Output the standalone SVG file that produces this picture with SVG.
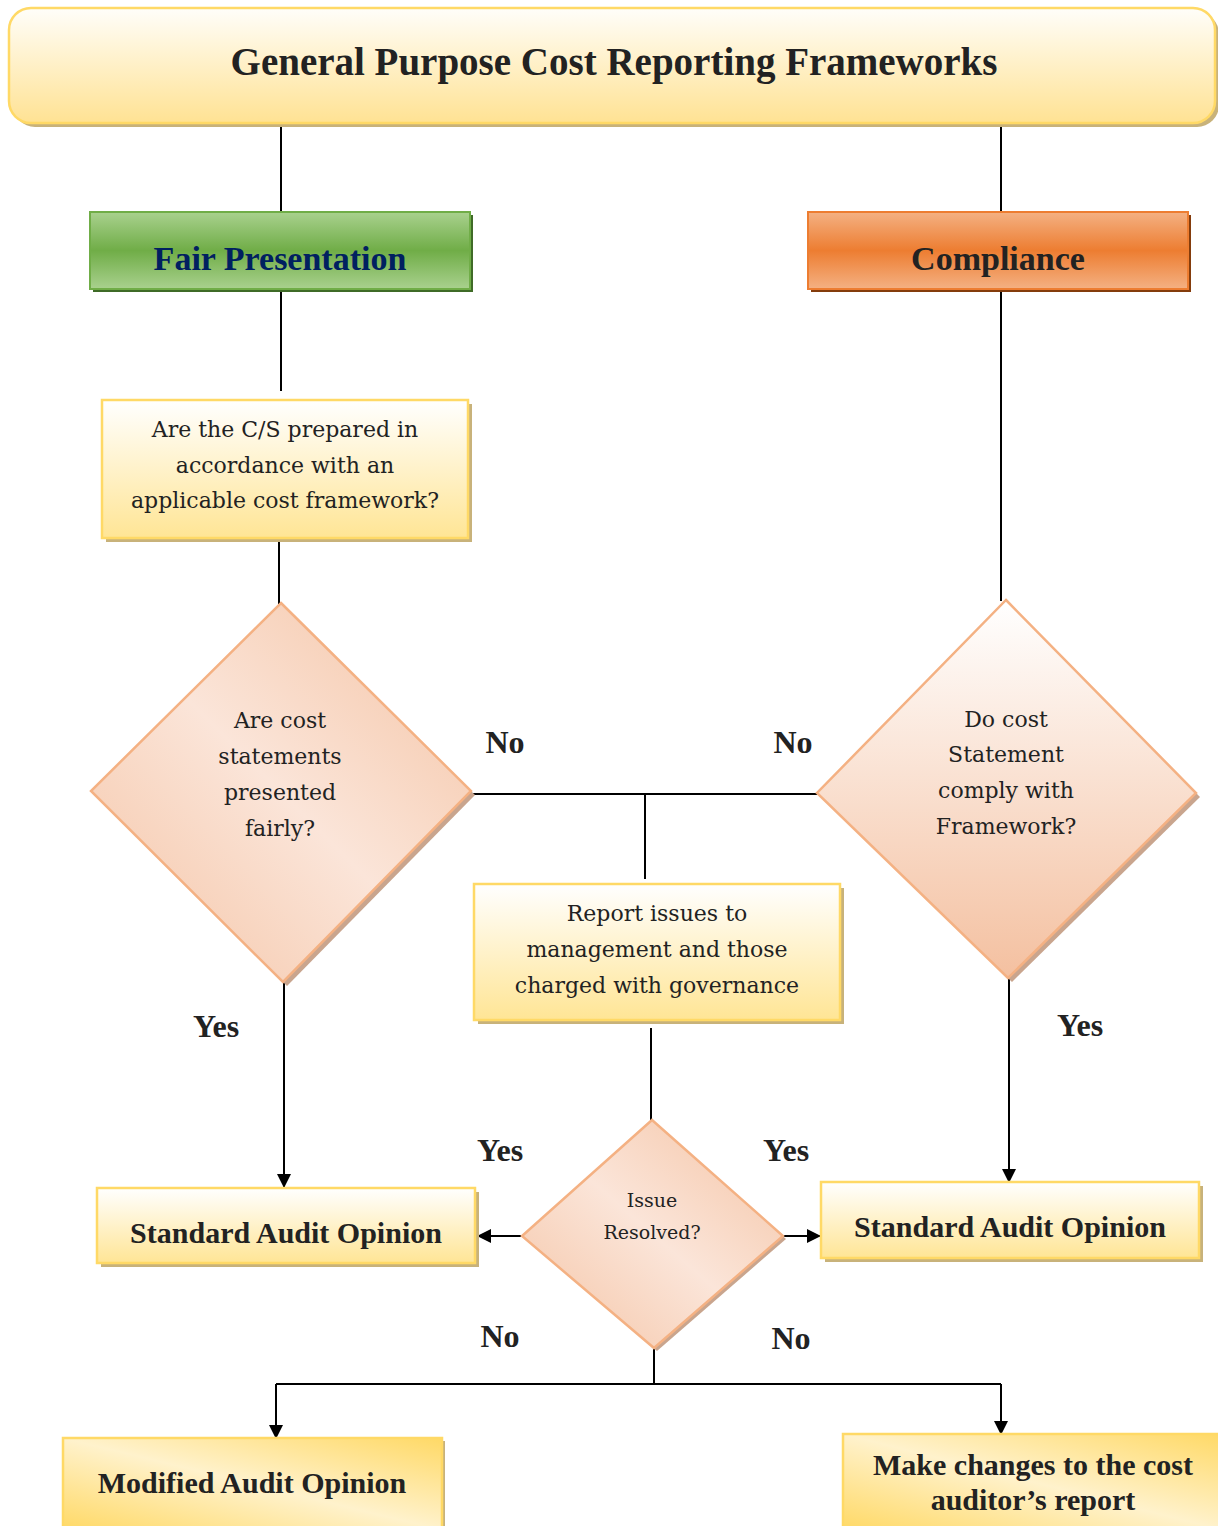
<svg xmlns="http://www.w3.org/2000/svg" width="1218" height="1526" viewBox="0 0 1218 1526">
  <defs>
    <linearGradient id="gTitle" x1="0" y1="0" x2="0" y2="1">
      <stop offset="0" stop-color="#FFFEFA"/>
      <stop offset="1" stop-color="#FFE293"/>
    </linearGradient>
    <linearGradient id="gYellow" x1="0" y1="0" x2="0" y2="1">
      <stop offset="0" stop-color="#FFFFFF"/>
      <stop offset="1" stop-color="#FFE595"/>
    </linearGradient>
    <linearGradient id="gYellowDiag" x1="0" y1="1" x2="1" y2="0">
      <stop offset="0" stop-color="#FFD966"/>
      <stop offset="0.5" stop-color="#FFF2CC"/>
      <stop offset="1" stop-color="#FFD966"/>
    </linearGradient>
    <linearGradient id="gGreen" x1="0" y1="0" x2="0" y2="1">
      <stop offset="0" stop-color="#A9D18E"/>
      <stop offset="0.5" stop-color="#70AD47"/>
      <stop offset="1" stop-color="#A9D18E"/>
    </linearGradient>
    <linearGradient id="gOrange" x1="0" y1="0" x2="0" y2="1">
      <stop offset="0" stop-color="#F4B183"/>
      <stop offset="0.5" stop-color="#ED7D31"/>
      <stop offset="1" stop-color="#F4B183"/>
    </linearGradient>
    <linearGradient id="gPeachDiag" x1="0" y1="1" x2="1" y2="0">
      <stop offset="0" stop-color="#F4C2A2"/>
      <stop offset="0.5" stop-color="#FBE5D9"/>
      <stop offset="1" stop-color="#F4C2A2"/>
    </linearGradient>
    <linearGradient id="gPeachV" x1="0" y1="0" x2="0" y2="1">
      <stop offset="0" stop-color="#FFFFFF"/>
      <stop offset="1" stop-color="#F4C0A0"/>
    </linearGradient>
    <marker id="arrowBig" viewBox="0 0 10 10" refX="10" refY="5" markerWidth="14" markerHeight="14" orient="auto" markerUnits="userSpaceOnUse">
      <path d="M0,0 L10,5 L0,10 z" fill="#000"/>
    </marker>
  </defs>
  <style>
    text { font-family: "Liberation Serif", "DejaVu Serif", serif; fill: #222; text-anchor: middle; }
    .body { font-family: "DejaVu Serif", "Liberation Serif", serif; font-size: 22px; }
    .bold { font-weight: bold; }
    .lbl { font-size: 32px; font-weight: bold; }
    .opinion { font-size: 30px; font-weight: bold; }
    .yshadow { fill: #C8B27A; }
    .ybox { fill: url(#gYellow); stroke: #FFD966; stroke-width: 2.5; }
    .line { stroke: #000; stroke-width: 2; fill: none; }
    .dia { stroke: #F4B183; stroke-width: 2.5; }
  </style>

  <rect width="1218" height="1526" fill="#FFFFFF"/>

  <!-- connectors -->
  <g id="connectors">
    <line class="line" x1="281" y1="123" x2="281" y2="212"/>
    <line class="line" x1="1001" y1="123" x2="1001" y2="212"/>
    <line class="line" x1="281" y1="290" x2="281" y2="391"/>
    <line class="line" x1="1001" y1="290" x2="1001" y2="601"/>
    <line class="line" x1="279" y1="540" x2="279" y2="604"/>
    <polyline class="line" points="473,794 818,794"/>
    <line class="line" x1="645" y1="794" x2="645" y2="879"/>
    <line class="line" x1="651" y1="1028" x2="651" y2="1121"/>
    <line class="line" x1="284" y1="982" x2="284" y2="1188" marker-end="url(#arrowBig)"/>
    <line class="line" x1="1009" y1="978" x2="1009" y2="1183" marker-end="url(#arrowBig)"/>
    <line class="line" x1="522" y1="1236" x2="477" y2="1236" marker-end="url(#arrowBig)"/>
    <line class="line" x1="783" y1="1236" x2="821" y2="1236" marker-end="url(#arrowBig)"/>
    <line class="line" x1="654" y1="1348" x2="654" y2="1384"/>
    <line class="line" x1="276" y1="1384" x2="1001" y2="1384"/>
    <line class="line" x1="276" y1="1384" x2="276" y2="1439" marker-end="url(#arrowBig)"/>
    <line class="line" x1="1001" y1="1384" x2="1001" y2="1435" marker-end="url(#arrowBig)"/>
  </g>

  <!-- branch labels -->
  <g id="labels">
    <text class="lbl" x="505" y="753">No</text>
    <text class="lbl" x="793" y="753">No</text>
    <text class="lbl" x="216" y="1037">Yes</text>
    <text class="lbl" x="1080" y="1036">Yes</text>
    <text class="lbl" x="500" y="1161">Yes</text>
    <text class="lbl" x="786" y="1161">Yes</text>
    <text class="lbl" x="500" y="1347">No</text>
    <text class="lbl" x="791" y="1349">No</text>
  </g>

  <!-- title -->
  <g id="title">
    <rect x="13" y="12" width="1206" height="115" rx="22" fill="#C8B27A"/>
    <rect x="9" y="8" width="1206" height="115" rx="22" fill="url(#gTitle)" stroke="#FFD966" stroke-width="2.5"/>
    <text class="bold" x="614" y="75" font-size="39">General Purpose Cost Reporting Frameworks</text>
  </g>

  <g id="fair-presentation">
    <rect x="93" y="215" width="380" height="77" fill="#3F6B27"/>
    <rect x="90" y="212" width="380" height="77" fill="url(#gGreen)" stroke="#70AD47" stroke-width="2"/>
    <text class="bold" x="280" y="270" font-size="34" style="fill:#002060">Fair Presentation</text>
  </g>

  <g id="compliance">
    <rect x="811" y="215" width="380" height="77" fill="#843C0C"/>
    <rect x="808" y="212" width="380" height="77" fill="url(#gOrange)" stroke="#ED7D31" stroke-width="2"/>
    <text class="bold" x="998" y="270" font-size="34">Compliance</text>
  </g>

  <g id="prepared-check">
    <rect class="yshadow" x="106" y="404" width="366" height="138"/>
    <rect class="ybox" x="102" y="400" width="366" height="138"/>
    <text class="body" x="285" y="437">Are the C/S prepared in</text>
    <text class="body" x="285" y="473">accordance with an</text>
    <text class="body" x="285" y="508">applicable cost framework?</text>
  </g>

  <g id="fair-decision">
    <polygon points="285,607 475,795 287,986 95,795" fill="#C9A58E"/>
    <polygon class="dia" points="281,603 471,791 283,982 91,791" fill="url(#gPeachDiag)"/>
    <text class="body" x="280" y="728">Are cost</text>
    <text class="body" x="280" y="764">statements</text>
    <text class="body" x="280" y="800">presented</text>
    <text class="body" x="280" y="836">fairly?</text>
  </g>

  <g id="compliance-decision">
    <polygon points="1010,604 1200,797 1012,982 821,797" fill="#C9A58E"/>
    <polygon class="dia" points="1006,600 1196,793 1008,978 817,793" fill="url(#gPeachV)"/>
    <text class="body" x="1006" y="727">Do cost</text>
    <text class="body" x="1006" y="762">Statement</text>
    <text class="body" x="1006" y="798">comply with</text>
    <text class="body" x="1006" y="834">Framework?</text>
  </g>

  <g id="report-issues">
    <rect class="yshadow" x="478" y="888" width="366" height="136"/>
    <rect class="ybox" x="474" y="884" width="366" height="136"/>
    <text class="body" x="657" y="921">Report issues to</text>
    <text class="body" x="657" y="957">management and those</text>
    <text class="body" x="657" y="993">charged with governance</text>
  </g>

  <g id="issue-decision">
    <polygon points="655,1123 786,1239 657,1351 525,1239" fill="#C9A58E"/>
    <polygon class="dia" points="652,1120 783,1236 654,1348 522,1236" fill="url(#gPeachDiag)"/>
    <text class="body" x="652" y="1207" font-size="19" style="font-size:19px">Issue</text>
    <text class="body" x="652" y="1239" style="font-size:19px">Resolved?</text>
  </g>

  <g id="standard-left">
    <rect class="yshadow" x="101" y="1192" width="378" height="75"/>
    <rect class="ybox" x="97" y="1188" width="378" height="75"/>
    <text class="opinion" x="286" y="1243">Standard Audit Opinion</text>
  </g>

  <g id="standard-right">
    <rect class="yshadow" x="825" y="1186" width="378" height="76"/>
    <rect class="ybox" x="821" y="1182" width="378" height="76"/>
    <text class="opinion" x="1010" y="1237">Standard Audit Opinion</text>
  </g>

  <g id="modified">
    <rect class="yshadow" x="66" y="1441" width="379" height="90"/>
    <rect x="63" y="1438" width="379" height="92" fill="url(#gYellowDiag)" stroke="#FFD966" stroke-width="2.5"/>
    <text class="opinion" x="252" y="1493">Modified Audit Opinion</text>
  </g>

  <g id="make-changes">
    <rect x="843" y="1434" width="380" height="96" fill="url(#gYellowDiag)" stroke="#FFD966" stroke-width="2.5"/>
    <text class="opinion" x="1033" y="1475">Make changes to the cost</text>
    <text class="opinion" x="1033" y="1510">auditor’s report</text>
  </g>
</svg>
